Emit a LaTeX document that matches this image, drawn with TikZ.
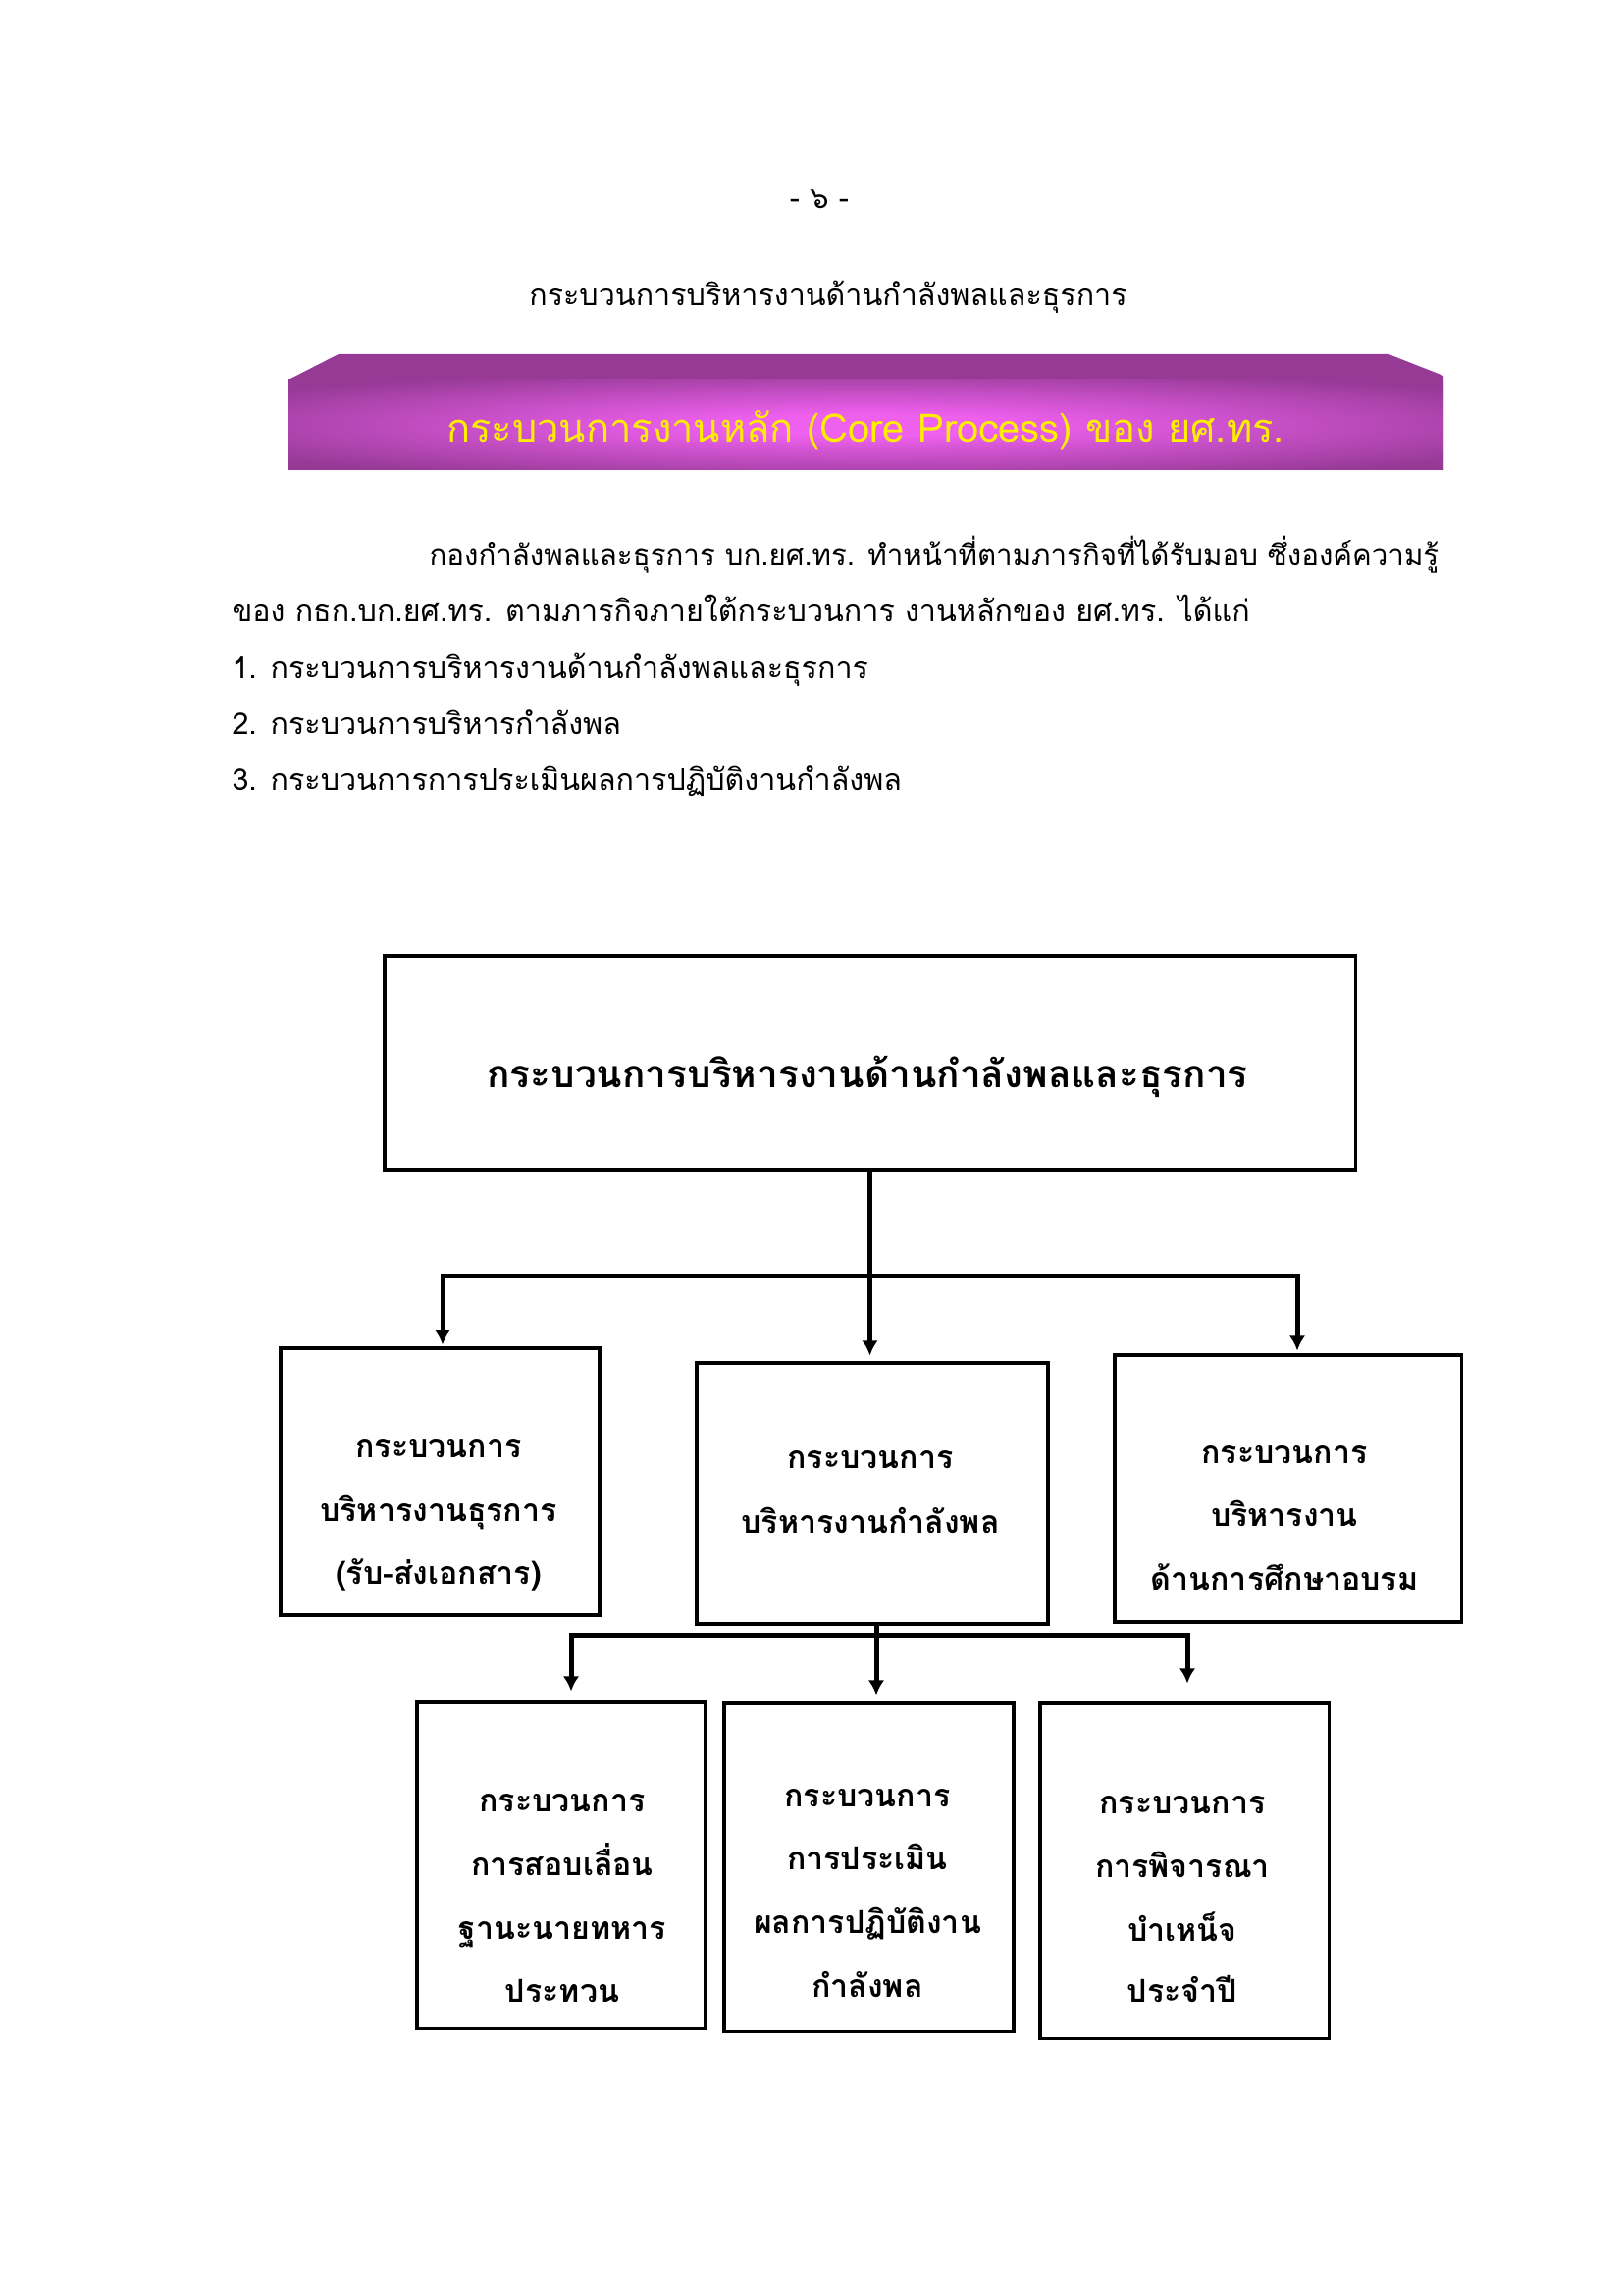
\documentclass[tikz,border=0pt]{standalone}
\usepackage{fontspec}
\setmainfont[Script=Thai]{Loma}
\usetikzlibrary{arrows.meta,calc}
\definecolor{bdark}{RGB}{150,58,150}
\definecolor{blight}{RGB}{238,96,238}
\definecolor{byellow}{RGB}{255,238,0}
\pgfdeclareradialshading{glow}{\pgfpoint{0bp}{0bp}}{color(0bp)=(blight); color(6bp)=(blight); color(32bp)=(bdark); color(50bp)=(bdark)}
\begin{document}
\begin{tikzpicture}[x=0.12696mm, y=-0.12696mm,
  box/.style={draw, line width=1.1pt, rectangle, inner sep=0pt},
  body/.style={font=\fontsize{11}{13}\selectfont, text height=8pt, text depth=2.2pt, inner sep=0pt},
  lbl/.style={font=\bfseries\fontsize{11.6}{14}\selectfont, text height=8.4pt, text depth=2.3pt, inner sep=0pt},
  mtxt/.style={font=\bfseries\fontsize{14}{17}\selectfont, text height=10pt, text depth=2.8pt, inner sep=0pt},
  btxt/.style={font=\fontsize{14.4}{17}\selectfont, text=byellow, text height=10.4pt, text depth=2.9pt, inner sep=0pt},
  ln/.style={line width=1.8pt},
  arr/.style={line width=1.8pt, -{Latex[length=5.5pt,width=6pt]}}
]
\useasboundingbox (0,0) rectangle (1654,2339);
\fill[white] (0,0) rectangle (1654,2339);

% page number and title
\node[body] (pnum) at (835,204) {- ๖ -};
\node[body] (title) at (844,303) {กระบวนการบริหารงานด้านกำลังพลและธุรการ};

% banner
\fill[bdark] (294,479) -- (294,387) -- (345,361) -- (1415,361) -- (1471,383) -- (1471,479) -- cycle;
\shade[shading=glow] (294,387) rectangle (1471,479);
\node[btxt] (banner) at (882,440) {กระบวนการงานหลัก (Core Process) ของ ยศ.ทร.};

% paragraph
\node[body, anchor=west, font=\fontsize{10.65}{13}\selectfont] (p1) at (437,568) {กองกำลังพลและธุรการ บก.ยศ.ทร. ทำหน้าที่ตามภารกิจที่ได้รับมอบ ซึ่งองค์ความรู้};
\node[body, anchor=west] (p2) at (236,625) {ของ กธก.บก.ยศ.ทร. ตามภารกิจภายใต้กระบวนการ งานหลักของ ยศ.ทร. ได้แก่};
\node[body, anchor=west] (p3) at (236,683) {1. กระบวนการบริหารงานด้านกำลังพลและธุรการ};
\node[body, anchor=west] (p4) at (236,740) {2. กระบวนการบริหารกำลังพล};
\node[body, anchor=west] (p5) at (236,797) {3. กระบวนการการประเมินผลการปฏิบัติงานกำลังพล};

% boxes
\node[box, minimum width=989*0.12696mm, minimum height=218*0.12696mm] (main) at (886.5,1083) {};
\node[mtxt] (maint) at (884,1099) {กระบวนการบริหารงานด้านกำลังพลและธุรการ};

\node[box, minimum width=325*0.12696mm, minimum height=272*0.12696mm] (b1) at (448.5,1510) {};
\node[box, minimum width=358*0.12696mm, minimum height=266*0.12696mm] (b2) at (889,1522) {};
\node[box, minimum width=353*0.12696mm, minimum height=272*0.12696mm] (b3) at (1312.5,1517) {};
\node[box, minimum width=294*0.12696mm, minimum height=332*0.12696mm] (c1) at (572,1901) {};
\node[box, minimum width=295*0.12696mm, minimum height=334*0.12696mm] (c2) at (885.5,1903) {};
\node[box, minimum width=294*0.12696mm, minimum height=341*0.12696mm] (c3) at (1207,1906.5) {};

\node[lbl] (b1a) at (447,1477) {กระบวนการ};
\node[lbl] (b1b) at (447,1542) {บริหารงานธุรการ};
\node[lbl] (b1c) at (447,1606) {(รับ-ส่งเอกสาร)};
\node[lbl] (b2a) at (887,1488) {กระบวนการ};
\node[lbl] (b2b) at (887,1554) {บริหารงานกำลังพล};
\node[lbl] (b3a) at (1309,1483) {กระบวนการ};
\node[lbl] (b3b) at (1309,1547) {บริหารงาน};
\node[lbl] (b3c) at (1309,1612) {ด้านการศึกษาอบรม};

\node[lbl] (c1a) at (573,1838) {กระบวนการ};
\node[lbl] (c1b) at (573,1903) {การสอบเลื่อน};
\node[lbl] (c1c) at (573,1968) {ฐานะนายทหาร};
\node[lbl] (c1d) at (573,2032) {ประทวน};
\node[lbl] (c2a) at (884,1833) {กระบวนการ};
\node[lbl] (c2b) at (884,1897) {การประเมิน};
\node[lbl] (c2c) at (884,1962) {ผลการปฏิบัติงาน};
\node[lbl] (c2d) at (884,2027) {กำลังพล};
\node[lbl] (c3a) at (1205,1840) {กระบวนการ};
\node[lbl] (c3b) at (1205,1905) {การพิจารณา};
\node[lbl] (c3c) at (1205,1970) {บำเหน็จ};
\node[lbl] (c3d) at (1205,2032) {ประจำปี};

% connectors, level 1
\coordinate (j1) at (887,1300);
\coordinate (bl) at (451,1300);
\coordinate (br) at (1322,1300);
\draw[arr, shorten >=6*0.12696mm] (main.south) -- (main.south |- b2.north);
\draw[arr, shorten >=2*0.12696mm] (j1) -- (bl) -- (bl |- b1.north);
\draw[arr, shorten >=3*0.12696mm] (j1) -- (br) -- (br |- b3.north);

% connectors, level 2
\coordinate (j2) at (893,1666);
\coordinate (cl) at (582,1666);
\coordinate (cr) at (1210,1666);
\draw[arr, shorten >=7*0.12696mm] (b2.south -| j2) -- (j2 |- c2.north);
\draw[arr, shorten >=10*0.12696mm] (j2) -- (cl) -- (cl |- c1.north);
\draw[arr, shorten >=19*0.12696mm] (j2) -- (cr) -- (cr |- c3.north);
\end{tikzpicture}
\end{document}
